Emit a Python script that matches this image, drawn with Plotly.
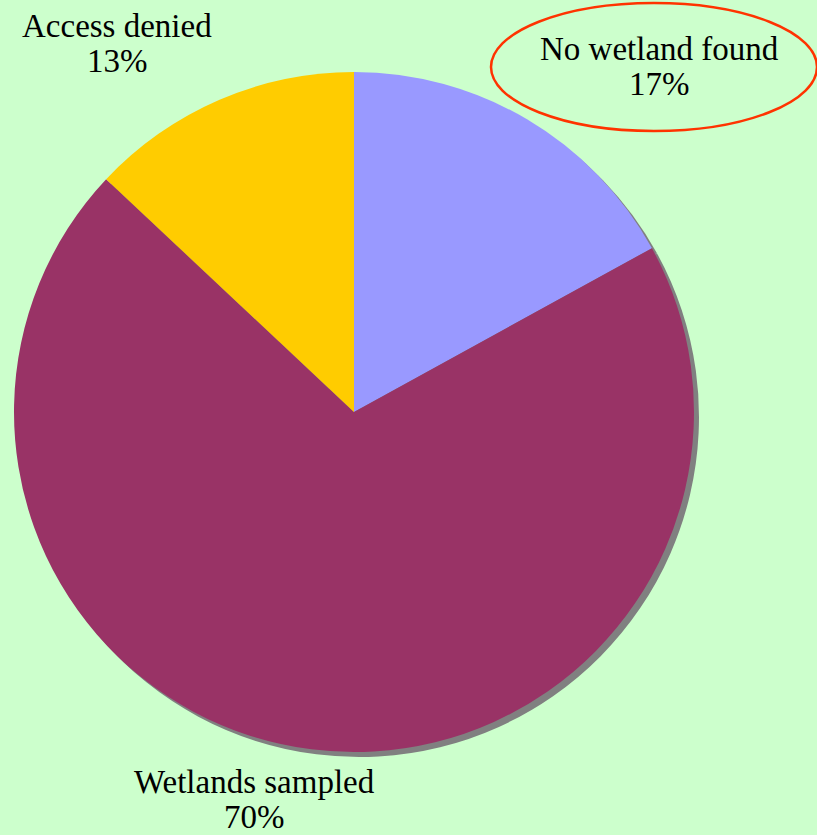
import plotly.graph_objects as go

# Data
categories = ["No wetland found", "Wetlands sampled", "Access denied"]
values = [17, 70, 13]
pct_labels = ["17%", "70%", "13%"]
colors = ["#9999FF", "#993366", "#FFCC00"]

W, H = 817, 835

def px_x(px):
    return px / W

def px_y(py):
    return 1 - py / H

cx, cy, r = 354, 412, 340
sh = 5  # shadow offset

fig = go.Figure()
# shadow pie
fig.add_trace(go.Pie(
    values=values, labels=categories, sort=False, direction="clockwise",
    marker=dict(colors=["#808080"] * len(values), line=dict(width=0)),
    textinfo="none", hoverinfo="skip", showlegend=False,
    domain=dict(x=[px_x(cx - r + sh), px_x(cx + r + sh)],
                y=[px_y(cy + r + sh), px_y(cy - r + sh)]),
))
fig.add_trace(go.Pie(
    values=values, labels=categories, sort=False, direction="clockwise",
    marker=dict(colors=colors, line=dict(width=0)),
    textinfo="none", showlegend=False,
    domain=dict(x=[px_x(cx - r), px_x(cx + r)],
                y=[px_y(cy + r), px_y(cy - r)]),
))

# label positions (center x, first-line baseline y) in pixels
label_pos = {
    "No wetland found": (659, 60),
    "Wetlands sampled": (254, 793),
    "Access denied": (117, 37),
}
font = dict(family="'Liberation Serif', 'Times New Roman', Times, serif", size=33, color="black")
annotations = []
for name, pct in zip(categories, pct_labels):
    x, base = label_pos[name]
    for i, line in enumerate([name, pct]):
        yb = base + i * 35
        annotations.append(dict(
            x=px_x(x), y=px_y(yb - 11), xref="paper", yref="paper",
            text=line, showarrow=False, font=font,
            xanchor="center", yanchor="middle",
        ))

shapes = [dict(type="circle", xref="paper", yref="paper",
               x0=px_x(491), x1=px_x(817), y0=px_y(131), y1=px_y(3),
               line=dict(color="#FF3300", width=2.5))]

fig.update_layout(
    width=W, height=H, margin=dict(l=0, r=0, t=0, b=0),
    paper_bgcolor="#CCFFCC", plot_bgcolor="#CCFFCC",
    font=dict(family="'Liberation Serif', serif"),
    annotations=annotations, shapes=shapes,
)
fig.write_html("out.html")
